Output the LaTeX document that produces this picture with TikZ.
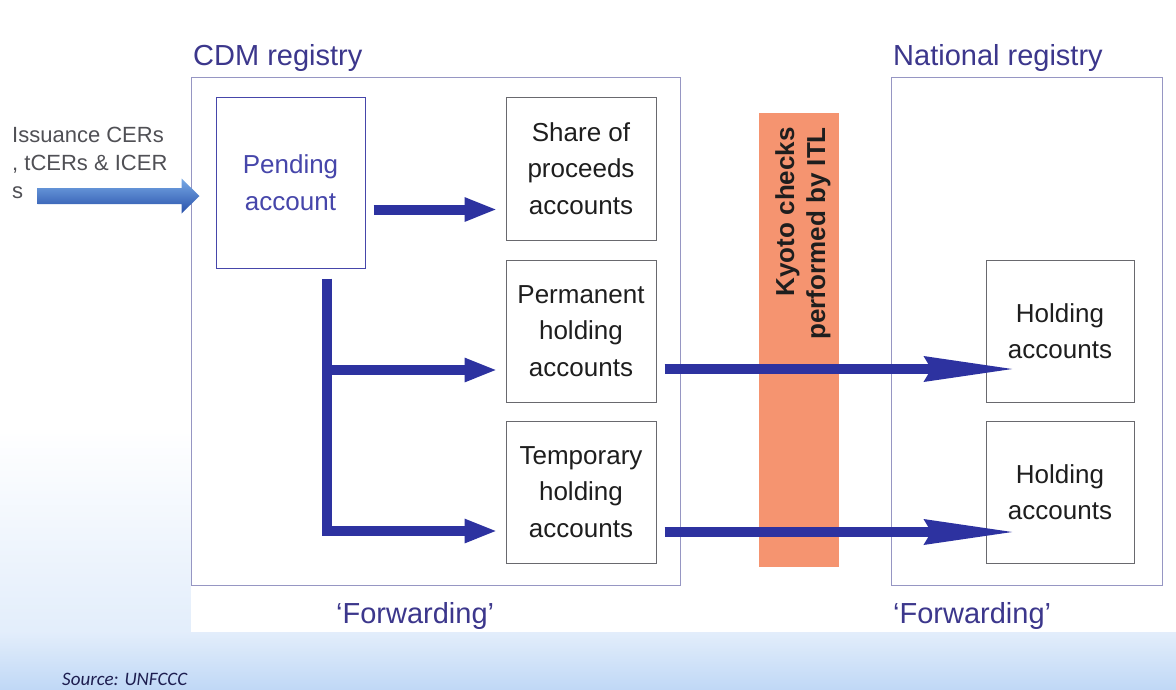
\documentclass[tikz,border=0pt]{standalone}
\usepackage{fontspec}
\setmainfont{Liberation Sans}
\newfontfamily\srcfont{Carlito}
\usetikzlibrary{arrows.meta,calc}
\definecolor{navy}{RGB}{45,50,160}
\definecolor{boxgray}{RGB}{105,105,110}
\definecolor{pendblue}{RGB}{70,70,170}
\definecolor{regline}{RGB}{150,150,195}
\definecolor{lblblue}{RGB}{60,55,140}
\definecolor{txt}{RGB}{30,30,30}
\definecolor{isstxt}{RGB}{80,80,85}
\definecolor{barorange}{RGB}{245,148,112}
\definecolor{bgblue}{RGB}{192,216,246}
\definecolor{isslight}{RGB}{120,170,230}
\definecolor{issmid}{RGB}{60,110,195}
\definecolor{issdark}{RGB}{40,80,170}
\definecolor{srcnavy}{RGB}{30,30,80}
\begin{document}
\begin{tikzpicture}[x=1pt,y=-1pt,
  box/.style={draw=boxgray, line width=1pt, fill=white, minimum width=150pt,
    minimum height=143pt, inner sep=0pt, align=center, text=txt,
    font=\fontsize{26}{36.5}\selectfont},
  region/.style={draw=regline, line width=1pt, inner sep=0pt},
  lbl/.style={text=lblblue, font=\fontsize{29}{34}\selectfont, inner sep=0pt},
  flow/.style={draw=navy, line width=10pt, -{Triangle[length=33pt,width=22pt]}},
  longflow/.style={draw=navy, line width=10pt, -{Stealth[length=90pt,width=24pt,inset=6pt]}},
]
\useasboundingbox (0,0) rectangle (1176,689);
% background
\fill[white] (0,0) rectangle (1176,689);
\shade[top color=white, bottom color=bgblue!45] (0,430) rectangle (1176,632);
\shade[top color=bgblue!45, bottom color=bgblue] (0,632) rectangle (1176,689);
\fill[white] (191,0) rectangle (1176,632);

% registries
\node[region, minimum width=489pt, minimum height=508pt] (cdm) at (435.5,331) {};
\node[region, minimum width=271pt, minimum height=508pt] (nat) at (1026.5,331) {};
\node[lbl, anchor=base west] (cdmlbl) at (193,65) {CDM registry};
\node[lbl, anchor=base west] (natlbl) at (893,65) {National registry};
\node[lbl, anchor=base west] (fwd1) at (336,623) {`Forwarding'};
\node[lbl, anchor=base west] (fwd2) at (893,623) {`Forwarding'};

% ITL bar
\node[fill=barorange, minimum width=80pt, minimum height=454pt, inner sep=0pt] (bar) at (799,340) {};
\node[rotate=90, anchor=east, align=right, inner sep=0pt, text=txt,
  font=\bfseries\fontsize{26}{31}\selectfont] (kyoto) at (803,127) {Kyoto checks\\performed by ITL};

% accounts
\node[box, draw=pendblue, text=pendblue, minimum width=149pt, minimum height=171pt] (pend) at (290.5,182.5) {Pending\\account};
\node[box] (share) at (581,168.5) {Share of\\proceeds\\accounts};
\node[box, minimum height=142pt] (perm) at (581,331) {Permanent\\holding\\accounts};
\node[box, minimum height=142pt] (temp) at (581,492) {Temporary\\holding\\accounts};
\node[box, minimum width=148pt, minimum height=142pt] (hold1) at (1060,331) {Holding\\accounts};
\node[box, minimum width=148pt, minimum height=142pt] (hold2) at (1060,492) {Holding\\accounts};

% issuance
\node[anchor=base west, align=left, inner sep=0pt, text=isstxt,
  font=\fontsize{22}{28}\selectfont] (iss) at (12,198) {Issuance CERs\\, tCERs \& ICER\\s};
\coordinate (isstip) at ($(pend.west)+(-16,13.5)$);
\shade[top color=isslight, middle color=issmid, bottom color=issdark]
  ($(isstip)+(-162,-8)$) -- ($(isstip)+(-18,-8)$) -- ($(isstip)+(-18,-17.5)$) --
  (isstip) -- ($(isstip)+(-18,17.5)$) -- ($(isstip)+(-18,8)$) --
  ($(isstip)+(-162,8)$) -- cycle;

% flows inside CDM registry
\draw[flow] ([xshift=8pt,yshift=-27pt]pend.east) -- ([xshift=-8pt,yshift=-27pt]pend.east -| share.west);
\coordinate (vtop) at ([xshift=36.5pt,yshift=-10pt]pend.south);
\draw[flow] (vtop) |- ([xshift=-8pt,yshift=-39pt]temp.west);
\draw[flow] ([yshift=-39pt]perm.west -| vtop) -- ([xshift=-8pt,yshift=-39pt]perm.west);

% forwarding to national registry
\draw[longflow] ([xshift=8pt,yshift=-38pt]perm.east) -- ([xshift=30pt,yshift=-38pt]hold1.west);
\draw[longflow] ([xshift=8pt,yshift=-40pt]temp.east) -- ([xshift=30pt,yshift=-40pt]hold2.west);

% source
\node[anchor=base west, inner sep=0pt, text=srcnavy,
  font=\srcfont\itshape\fontsize{19}{21}\selectfont] (src) at (62,685) {Source: UNFCCC};
\end{tikzpicture}
\end{document}
